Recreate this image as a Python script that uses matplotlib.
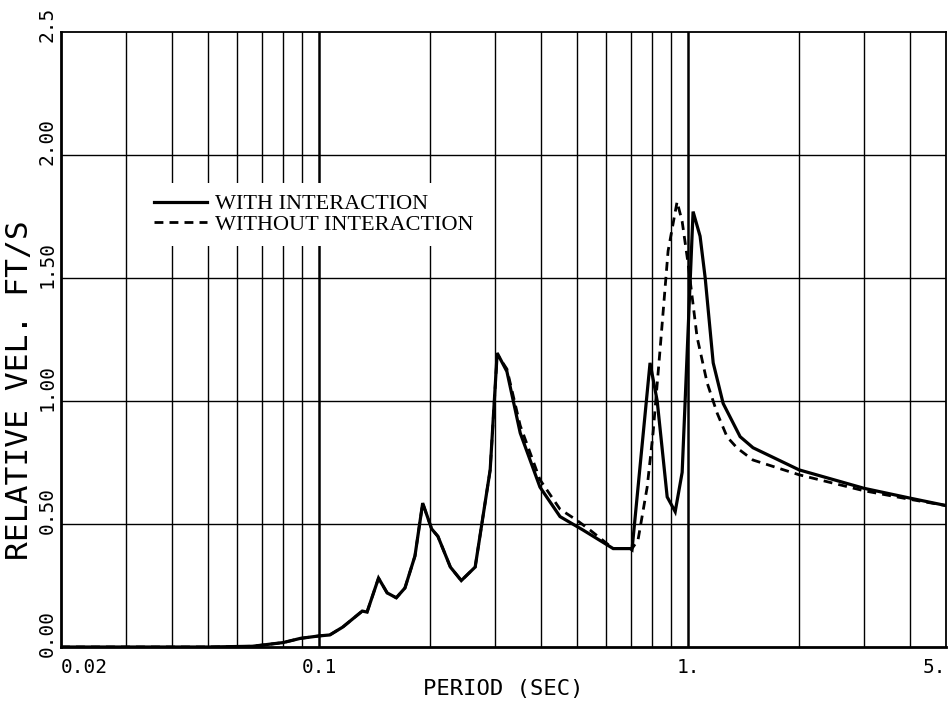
import matplotlib
matplotlib.use("Agg")
import matplotlib.pyplot as plt
import matplotlib.transforms as mtransforms

# Response spectrum: relative velocity vs. period
period_with = [0.02, 0.03, 0.05, 0.066, 0.08, 0.089, 0.1, 0.107, 0.116, 0.131,
               0.135, 0.145, 0.153, 0.162, 0.171, 0.182, 0.191, 0.202, 0.210,
               0.227, 0.243, 0.265, 0.291, 0.304, 0.323, 0.351, 0.397, 0.450,
               0.520, 0.627, 0.697, 0.705, 0.789, 0.825, 0.878, 0.923, 0.964,
               1.032, 1.078, 1.113, 1.17, 1.245, 1.384, 1.50, 2.0, 3.0, 4.0, 5.0]
vel_with = [0.0, 0.0, 0.0, 0.003, 0.018, 0.035, 0.045, 0.049, 0.081, 0.146,
            0.142, 0.28, 0.22, 0.20, 0.24, 0.37, 0.585, 0.48, 0.45,
            0.325, 0.27, 0.325, 0.72, 1.195, 1.12, 0.87, 0.65, 0.53,
            0.475, 0.40, 0.40, 0.395, 1.155, 1.00, 0.61, 0.55, 0.71,
            1.77, 1.67, 1.50, 1.155, 0.99, 0.855, 0.81, 0.72, 0.645, 0.605, 0.575]

period_without = [0.02, 0.03, 0.05, 0.066, 0.08, 0.089, 0.1, 0.107, 0.116, 0.131,
                  0.135, 0.145, 0.153, 0.162, 0.171, 0.182, 0.191, 0.202, 0.210,
                  0.227, 0.243, 0.265, 0.291, 0.304, 0.323, 0.351, 0.397, 0.450,
                  0.500, 0.543, 0.627, 0.697, 0.705, 0.732, 0.775, 0.804, 0.840,
                  0.883, 0.934, 0.964, 1.00, 1.058, 1.127, 1.199, 1.276, 1.358,
                  1.50, 2.0, 3.0, 4.0, 5.0]
vel_without = [0.0, 0.0, 0.0, 0.003, 0.018, 0.035, 0.045, 0.049, 0.081, 0.146,
               0.142, 0.28, 0.22, 0.20, 0.24, 0.37, 0.585, 0.48, 0.45,
               0.325, 0.27, 0.325, 0.72, 1.19, 1.13, 0.90, 0.68, 0.56,
               0.515, 0.475, 0.40, 0.40, 0.40, 0.435, 0.65, 0.87, 1.21,
               1.61, 1.81, 1.73, 1.56, 1.26, 1.073, 0.951, 0.854, 0.809,
               0.76, 0.70, 0.635, 0.60, 0.575]

x_ticks = [0.02, 0.1, 1.0, 5.0]
x_tick_labels = ["0.02", "0.1", "1.", "5."]
x_grid = [0.03, 0.04, 0.05, 0.06, 0.07, 0.08, 0.09,
          0.2, 0.3, 0.4, 0.5, 0.6, 0.7, 0.8, 0.9,
          2.0, 3.0, 4.0]
x_decades = [0.1, 1.0]
y_ticks = [0.0, 0.5, 1.0, 1.5, 2.0, 2.5]
y_tick_labels = ["0.00", "0.50", "1.00", "1.50", "2.00", "2.5"]

mono = "DejaVu Sans Mono"

fig = plt.figure(figsize=(9.48, 7.06), dpi=100)
ax = fig.add_axes([61 / 948, 1 - 647 / 706, 885 / 948, 615 / 706])

ax.set_xscale("log")
ax.set_xlim(0.02, 5.0)
ax.set_ylim(0.0, 2.5)

# grid
for xv in x_grid:
    ax.axvline(xv, color="black", lw=1.0, zorder=1)
for xv in x_decades:
    ax.axvline(xv, color="black", lw=1.8, zorder=1)
for yv in y_ticks[1:-1]:
    ax.axhline(yv, color="black", lw=1.0, zorder=1)

ax.plot(period_with, vel_with, color="black", lw=2.3, zorder=3,
        label="WITH INTERACTION", solid_joinstyle="miter")
ax.plot(period_without, vel_without, color="black", lw=2.0, zorder=3,
        linestyle=(0, (3.2, 2.2)), label="WITHOUT INTERACTION")

for s in ax.spines.values():
    s.set_linewidth(1.3)
ax.spines["left"].set_linewidth(2.0)
ax.spines["bottom"].set_linewidth(2.0)

ax.minorticks_off()
ax.set_xticks(x_ticks)
ax.set_xticklabels(x_tick_labels, fontfamily=mono, fontsize=14)
ax.set_yticks(y_ticks)
ax.set_yticklabels(y_tick_labels, fontfamily=mono, fontsize=14, rotation=90)
ax.tick_params(axis="both", length=0)
ax.tick_params(axis="x", pad=8)
ax.tick_params(axis="y", pad=3)

labels = ax.get_xticklabels()
labels[0].set_ha("left")
labels[-1].set_ha("right")

shift_down = mtransforms.ScaledTranslation(0, -10 / 100, fig.dpi_scale_trans)
for t in ax.get_yticklabels():
    t.set_va("bottom")
    t.set_transform(t.get_transform() + shift_down)

ax.set_xlabel("PERIOD (SEC)", fontfamily=mono, fontsize=16)
ax.set_ylabel("RELATIVE VEL. FT/S", fontfamily=mono, fontsize=22.5)
ax.yaxis.set_label_coords(-0.030, 0.418)
ax.xaxis.set_label_coords(0.5, -0.052)

leg = ax.legend(loc="upper left", bbox_to_anchor=(0.092, 0.755),
                frameon=True, fancybox=False, framealpha=1.0,
                facecolor="white", edgecolor="none",
                prop={"family": "Liberation Serif", "size": 16},
                handlelength=2.4, handletextpad=0.35, labelspacing=0.0,
                borderpad=0.5, borderaxespad=0.0)
leg.set_zorder(2)

fig.savefig("out.png", dpi=100)
